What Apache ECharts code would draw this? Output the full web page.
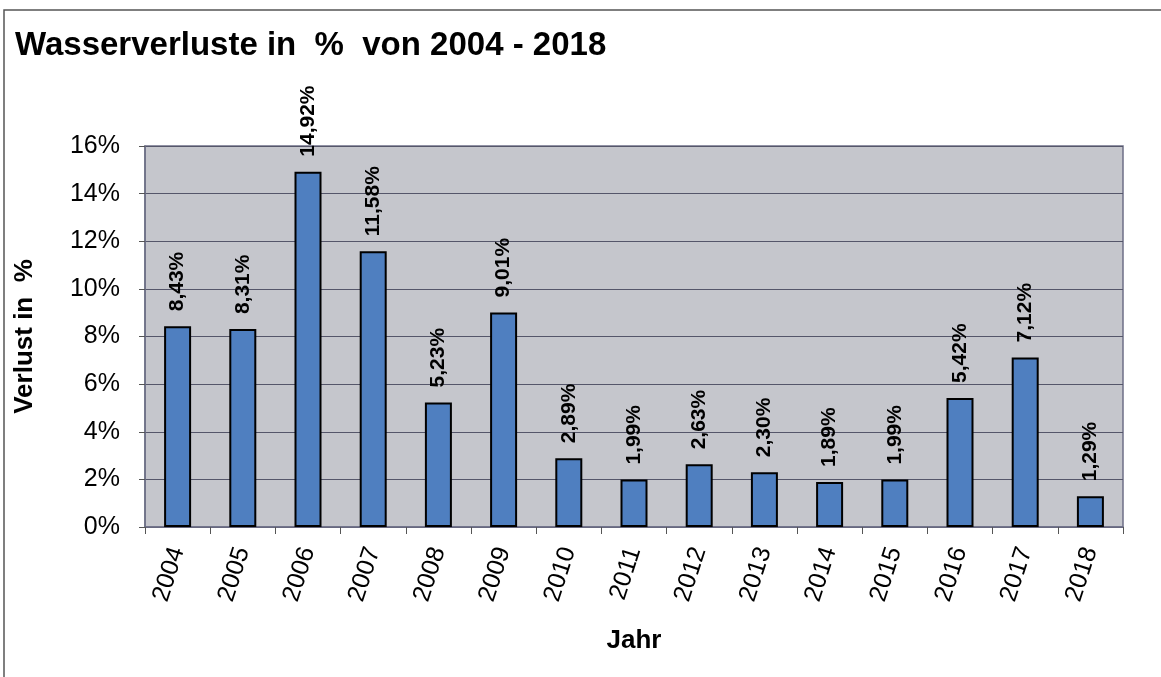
<!DOCTYPE html>
<html><head><meta charset="utf-8">
<script src="https://cdn.jsdelivr.net/npm/echarts@6/dist/echarts.min.js"></script>
<style>html,body{margin:0;padding:0;background:#fff}#c{width:1161px;height:677px}</style>
</head><body><div id="c"></div>
<script>
const years = ['2004','2005','2006','2007','2008','2009','2010','2011','2012','2013','2014','2015','2016','2017','2018'];
const losses = [8.43,8.31,14.92,11.58,5.23,9.01,2.89,1.99,2.63,2.30,1.89,1.99,5.42,7.12,1.29];
const yTicks = [0,2,4,6,8,10,12,14,16];

const chart = echarts.init(document.getElementById('c'));
chart.setOption({
  animation:false,
  backgroundColor:'#fff',
  title:{text:'Wasserverluste in  %  von 2004 - 2018',left:10,top:24,
    textStyle:{fontFamily:'Liberation Sans',fontWeight:'bold',fontSize:33,color:'#000'}},
  grid:{left:145,right:38,top:146,bottom:150,show:true,backgroundColor:'#c5c6cc',borderColor:'#6d6f86',borderWidth:1.5},
  xAxis:{type:'category',data:years,
    axisLine:{lineStyle:{color:'#6d6f86',width:1.5}},
    axisTick:{show:true,length:7,lineStyle:{color:'#555'}},
    axisLabel:{rotate:72,fontFamily:'Liberation Sans',fontSize:25,color:'#000',margin:21},
    name:'Jahr',nameLocation:'middle',nameGap:101,
    nameTextStyle:{fontFamily:'Liberation Sans',fontWeight:'bold',fontSize:26,color:'#000'}},
  yAxis:{type:'value',min:0,max:16,interval:2,
    axisLine:{show:true,lineStyle:{color:'#6d6f86',width:1.5}},
    axisTick:{show:true,length:6,lineStyle:{color:'#555'}},
    splitLine:{lineStyle:{color:'#55566a',width:1}},
    axisLabel:{fontFamily:'Liberation Sans',fontSize:25,color:'#000',margin:25,
      formatter:v=>yTicks.includes(v)?v+'%':''},
    name:'Verlust in  %',nameLocation:'middle',nameGap:107,nameRotate:90,
    nameTextStyle:{fontFamily:'Liberation Sans',fontWeight:'bold',fontSize:26,color:'#000'}},
  series:[{type:'bar',data:losses,barWidth:27,
    itemStyle:{color:'#4f7fc0',borderColor:'#000',borderWidth:2},
    label:{show:true,position:'top',rotate:90,align:'left',verticalAlign:'middle',distance:15,
      fontFamily:'Liberation Sans',fontWeight:'bold',fontSize:21,color:'#000',
      formatter:p=>p.value.toFixed(2).replace('.',',')+'%'}}],
  graphic:[{type:'rect',shape:{x:4,y:10,width:1170,height:700},style:{fill:'none',stroke:'#555',lineWidth:1.5}}]
});
</script></body></html>
